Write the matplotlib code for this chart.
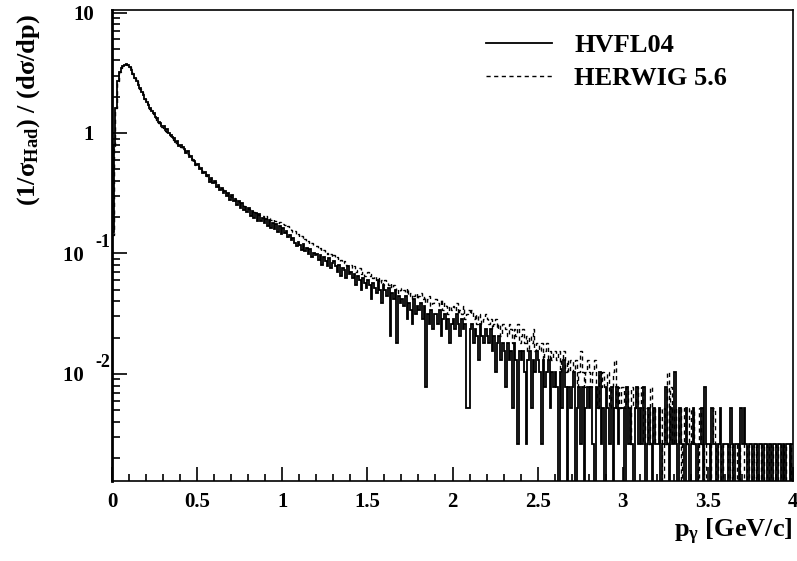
import numpy as np
import matplotlib
matplotlib.use('Agg')
import matplotlib.pyplot as plt
import matplotlib.transforms as mtransforms
from matplotlib.ticker import FixedLocator, FixedFormatter, LogLocator, NullFormatter, MultipleLocator

plt.rcParams['font.family'] = ['Liberation Serif', 'DejaVu Serif']
plt.rcParams['font.weight'] = 'bold'
plt.rcParams['mathtext.fontset'] = 'custom'
plt.rcParams['mathtext.rm'] = 'Liberation Serif:bold'
plt.rcParams['mathtext.bf'] = 'Liberation Serif:bold'
plt.rcParams['mathtext.it'] = 'Liberation Serif:bold'

# p_gamma binning [GeV/c], 400 bins of 0.01
bin_edges = np.linspace(0.0, 4.0, 401)
# one entry in the tail corresponds to this value of (1/sigma) dsigma/dp
entry_norm = 0.0026

# HVFL04 (solid), entries per bin
hvfl_counts = [
    58, 308, 615, 1038, 1230, 1327, 1385, 1423, 1450, 1420,
    1365, 1290, 1190, 1110, 1040, 960, 905, 845, 790, 740,
    692, 655, 618, 582, 561, 524, 508, 472, 470, 438,
    440, 406, 414, 388, 371, 358, 352, 322, 333, 301,
    304, 292, 283, 264, 272, 244, 250, 230, 224, 210,
    213, 192, 198, 180, 181, 170, 172, 152, 163, 147,
    155, 136, 143, 129, 135, 121, 127, 115, 121, 107,
    117, 104, 108, 97, 105, 91, 101, 88, 93, 85,
    91, 79, 87, 76, 83, 71, 81, 72, 76, 69,
    75, 65, 73, 63, 69, 61, 67, 58, 65, 56,
    62, 57, 59, 53, 55, 50, 52, 47, 44, 48,
    45, 41, 46, 40, 43, 38, 42, 36, 39, 37,
    38, 34, 37, 31, 36, 33, 30, 35, 29, 32,
    33, 30, 27, 31, 25, 29, 28, 24, 30, 26,
    27, 24, 26, 21, 25, 23, 19, 24, 22, 20,
    23, 21, 16, 22, 20, 18, 23, 19, 15, 21,
    19, 17, 20, 8, 18, 16, 19, 7, 17, 15,
    16, 14, 17, 11, 15, 13, 10, 16, 12, 14,
    13, 15, 11, 14, 3, 12, 10, 13, 9, 12,
    12, 10, 13, 8, 11, 12, 9, 11, 7, 10,
    11, 9, 12, 10, 8, 11, 9, 10, 2, 2,
    9, 10, 7, 9, 8, 5, 10, 8, 7, 9,
    8, 7, 9, 6, 8, 4, 7, 8, 5, 7,
    6, 3, 7, 5, 6, 2, 7, 5, 1, 6,
    5, 6, 4, 1, 5, 6, 2, 5, 4, 6,
    5, 4, 1, 5, 3, 4, 5, 2, 4, 3,
    4, 3, 0, 4, 2, 5, 3, 0, 3, 2,
    3, 4, 0, 2, 3, 1, 3, 0, 2, 3,
    2, 3, 1, 0, 3, 2, 4, 1, 2, 0,
    3, 2, 1, 3, 0, 2, 3, 1, 2, 2,
    2, 0, 3, 1, 2, 1, 0, 2, 3, 1,
    2, 1, 3, 0, 1, 2, 1, 0, 2, 1,
    1, 2, 0, 1, 1, 3, 1, 0, 2, 1,
    4, 1, 0, 2, 1, 1, 0, 2, 1, 0,
    1, 2, 1, 0, 1, 1, 2, 0, 3, 1,
    1, 0, 2, 1, 1, 0, 1, 2, 0, 1,
    1, 1, 0, 2, 1, 0, 1, 1, 0, 2,
    1, 2, 1, 0, 1, 1, 0, 1, 1, 0,
    1, 1, 0, 1, 1, 0, 1, 0, 1, 1,
    0, 1, 1, 0, 1, 0, 1, 1, 0, 1,
]

# HERWIG 5.6 (dashed), entries per bin
herwig_counts = [
    55, 300, 620, 1030, 1235, 1320, 1390, 1430, 1445, 1415,
    1360, 1280, 1195, 1100, 1035, 955, 900, 850, 785, 735,
    688, 646, 606, 578, 548, 522, 494, 468, 455, 428,
    422, 402, 392, 378, 360, 348, 334, 320, 314, 300,
    296, 284, 278, 264, 256, 246, 238, 226, 222, 210,
    206, 196, 192, 184, 180, 170, 168, 160, 158, 150,
    151, 145, 140, 136, 132, 130, 126, 122, 120, 116,
    114, 111, 108, 105, 103, 100, 97, 96, 93, 92,
    90, 89, 86, 85, 83, 82, 80, 79, 78, 76,
    78, 75, 76, 73, 74, 71, 72, 69, 70, 68,
    68, 66, 64, 65, 61, 60, 58, 59, 55, 56,
    53, 54, 50, 51, 48, 49, 46, 47, 45, 44,
    44, 42, 43, 40, 41, 38, 39, 37, 38, 36,
    37, 35, 36, 33, 34, 32, 33, 31, 30, 31,
    31, 29, 30, 27, 28, 29, 26, 27, 25, 26,
    27, 25, 26, 24, 25, 23, 24, 22, 23, 21,
    23, 22, 21, 22, 20, 21, 19, 20, 18, 19,
    20, 19, 18, 20, 17, 18, 16, 17, 18, 16,
    17, 18, 16, 17, 15, 16, 17, 14, 15, 16,
    16, 15, 14, 16, 13, 15, 14, 12, 14, 13,
    14, 13, 15, 12, 13, 12, 14, 11, 12, 13,
    12, 13, 11, 12, 10, 12, 11, 10, 11, 12,
    11, 10, 11, 9, 10, 11, 9, 10, 8, 10,
    10, 9, 8, 10, 9, 7, 9, 8, 10, 7,
    8, 9, 7, 8, 6, 8, 7, 9, 6, 7,
    7, 6, 7, 5, 6, 7, 5, 6, 5, 6,
    6, 5, 6, 4, 5, 6, 4, 5, 4, 5,
    5, 4, 5, 3, 4, 6, 4, 3, 4, 5,
    4, 3, 4, 5, 3, 2, 4, 3, 4, 3,
    3, 4, 2, 3, 4, 5, 2, 3, 2, 3,
    3, 2, 3, 2, 1, 3, 2, 2, 3, 2,
    2, 3, 1, 2, 2, 1, 3, 2, 1, 2,
    2, 1, 2, 0, 2, 1, 4, 1, 3, 1,
    2, 1, 1, 2, 0, 1, 2, 1, 1, 2,
    1, 2, 1, 1, 0, 2, 1, 1, 0, 1,
    1, 0, 1, 2, 1, 0, 1, 1, 0, 1,
    1, 1, 0, 1, 0, 1, 1, 0, 1, 0,
    0, 1, 1, 0, 1, 1, 0, 1, 0, 1,
    1, 0, 1, 0, 0, 1, 0, 1, 0, 0,
    1, 0, 0, 1, 0, 1, 0, 0, 1, 0,
]

series_labels = ['HVFL04', 'HERWIG 5.6']
y_ticks = [1e-2, 1e-1, 1, 10]
# the mantissa of 10^-1 and 10^-2 sits a little left, the exponent apart
y_tick_labels = ['10  ', '10  ', '1', '10']
y_exponents = {1e-2: '-2', 1e-1: '-1'}
x_ticks = [0, 0.5, 1, 1.5, 2, 2.5, 3, 3.5, 4]
x_tick_labels = ['0', '0.5', '1', '1.5', '2', '2.5', '3', '3.5', '4']


def to_values(counts):
    na = np.asarray(counts, dtype=float) * entry_norm
    # empty bins fall below the axis on a log scale
    return np.where(na > 0, na, 1e-6)


fig = plt.figure(figsize=(7.97, 5.61), dpi=100)
ax = fig.add_axes([112 / 797, 1 - 481 / 561, 681 / 797, 471 / 561])

ax.stairs(to_values(hvfl_counts), bin_edges, baseline=None, color='black',
          lw=1.3, label=series_labels[0])
ax.stairs(to_values(herwig_counts), bin_edges, baseline=None, color='black',
          lw=1.0, ls=(0, (3, 2.5)), label=series_labels[1])

ax.set_yscale('log')
ax.set_xlim(0, 4)
ax.set_ylim(0.00129, 10.5)

ax.yaxis.set_major_locator(FixedLocator(y_ticks))
ax.yaxis.set_major_formatter(FixedFormatter(y_tick_labels))
ax.yaxis.set_minor_locator(LogLocator(base=10, subs=np.arange(2, 10)))
ax.yaxis.set_minor_formatter(NullFormatter())
ax.set_xticks(x_ticks)
ax.set_xticklabels(x_tick_labels)
ax.xaxis.set_minor_locator(MultipleLocator(0.1))

ax.tick_params(which='both', direction='in', top=False, right=False,
               labelsize=15, width=1.2)
ax.tick_params(axis='y', which='major', length=11, pad=13)
ax.tick_params(axis='y', which='minor', length=6)
ax.tick_params(axis='x', which='major', length=10, pad=8)
ax.tick_params(axis='x', which='minor', length=5)
for lbl in ax.get_xticklabels() + ax.get_yticklabels():
    lbl.set_fontweight('bold')

trans = mtransforms.blended_transform_factory(fig.transFigure, ax.transData)
raise_off = mtransforms.ScaledTranslation(0, 11 / 100, fig.dpi_scale_trans)
for yv, s in y_exponents.items():
    fig.text(95 / 797, yv, s, transform=trans + raise_off, ha='left',
             va='center', fontsize=13, fontweight='bold')

for side in ['top', 'right', 'bottom']:
    ax.spines[side].set_linewidth(1.2)
ax.spines['left'].set_linewidth(2.0)

fig.text(29 / 797, 1 - 110 / 561, r'(1/σ$_{\mathbf{Had}}$) / (dσ/dp)',
         rotation=90, ha='center', va='center', fontsize=19, fontweight='bold')
fig.text(793 / 797, 1 - 532 / 561, r'p$_{\mathbf{γ}}$ [GeV/c]',
         ha='right', va='center', fontsize=19, fontweight='bold')

ax.legend(loc='upper left', bbox_to_anchor=(486 / 797, 1 - 34 / 561),
          bbox_transform=fig.transFigure, frameon=False, fontsize=19,
          handlelength=2.5, handletextpad=0.85, labelspacing=0.36,
          borderpad=0, borderaxespad=0)

fig.savefig('out.png', dpi=100)
